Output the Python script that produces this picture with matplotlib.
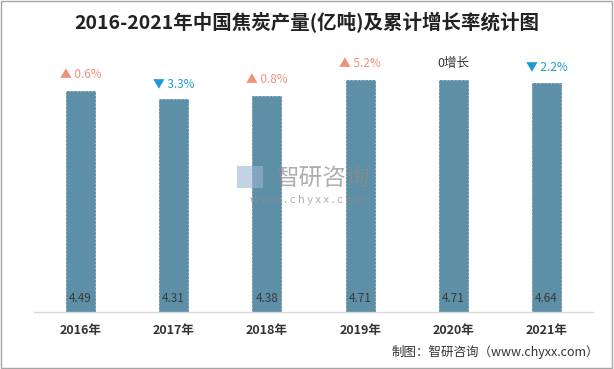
import numpy as np
import matplotlib.pyplot as plt
from matplotlib.patches import Rectangle

plt.rcParams['font.family'] = ['Noto Sans CJK SC', 'DejaVu Sans']

years = ['2016年', '2017年', '2018年', '2019年', '2020年', '2021年']
output = [4.49, 4.31, 4.38, 4.71, 4.71, 4.64]
growth = ['0.6%', '3.3%', '0.8%', '5.2%', '', '2.2%']
trend = ['up', 'down', 'up', 'up', 'flat', 'down']

bar_color = '#5D8FA7'
up_color = '#F0917A'
down_color = '#1B9AD6'

fig = plt.figure(figsize=(6.14, 3.69), dpi=100)
ax = fig.add_axes([0.055, 0.1545, 0.911, 0.735])

x = np.arange(len(years))
ax.bar(x, output, width=0.31, color=bar_color, edgecolor='#4F7F96',
       linewidth=0.5, linestyle='--', zorder=2)
ax.set_xlim(-0.5, len(years) - 0.5)
ax.set_ylim(0, 5.5)

for i, v in enumerate(output):
    ax.text(i, 0.27, '%.2f' % v, ha='center', va='center', fontsize=8.5,
            color='#3A3A3A', zorder=3)
    if trend[i] == 'up':
        ax.annotate('▲ ' + growth[i], (i, v), xytext=(0, 7), textcoords='offset points',
                    ha='center', va='bottom', fontsize=8.5, color=up_color)
    elif trend[i] == 'down':
        ax.annotate('▼ ' + growth[i], (i, v), xytext=(0, 7), textcoords='offset points',
                    ha='center', va='bottom', fontsize=8.5, color=down_color)
    else:
        ax.annotate('0增长', (i, v), xytext=(0, 7), textcoords='offset points',
                    ha='center', va='bottom', fontsize=9, color='#333333')

ax.set_xticks(x)
ax.set_xticklabels(years, fontsize=9, fontweight='bold', color='#333333')
ax.tick_params(axis='x', length=0, pad=9)
ax.set_yticks([])
for s in ['top', 'right', 'left']:
    ax.spines[s].set_visible(False)
ax.spines['bottom'].set_color('#D9D9D9')
ax.spines['bottom'].set_linewidth(1)

fig.text(0.5, 0.94, '2016-2021年中国焦炭产量(亿吨)及累计增长率统计图',
         ha='center', va='center', fontsize=14, fontweight='bold', color='#222222')

# watermark
fig.text(0.525, 0.515, '智研咨询', ha='center', va='center', fontsize=17,
         color='#8C8C8C', alpha=0.7, zorder=5)
fig.text(0.5, 0.458, 'w w w . c h y x x . c o m', ha='center', va='center',
         fontsize=8, color='#8C8C8C', alpha=0.7, zorder=5)
fig.patches.append(Rectangle((0.386, 0.49), 0.042, 0.06, transform=fig.transFigure,
                             facecolor='#9DB4D6', alpha=0.6, edgecolor='none', zorder=5))

fig.text(0.975, 0.045, '制图：智研咨询（www.chyxx.com）', ha='right', va='center',
         fontsize=9, color='#333333')

fig.patches.append(Rectangle((0.002, 0.003), 0.995, 0.994, transform=fig.transFigure,
                             facecolor='none', edgecolor='#A6A6A6', linewidth=1))

fig.savefig('out.png', dpi=100)
